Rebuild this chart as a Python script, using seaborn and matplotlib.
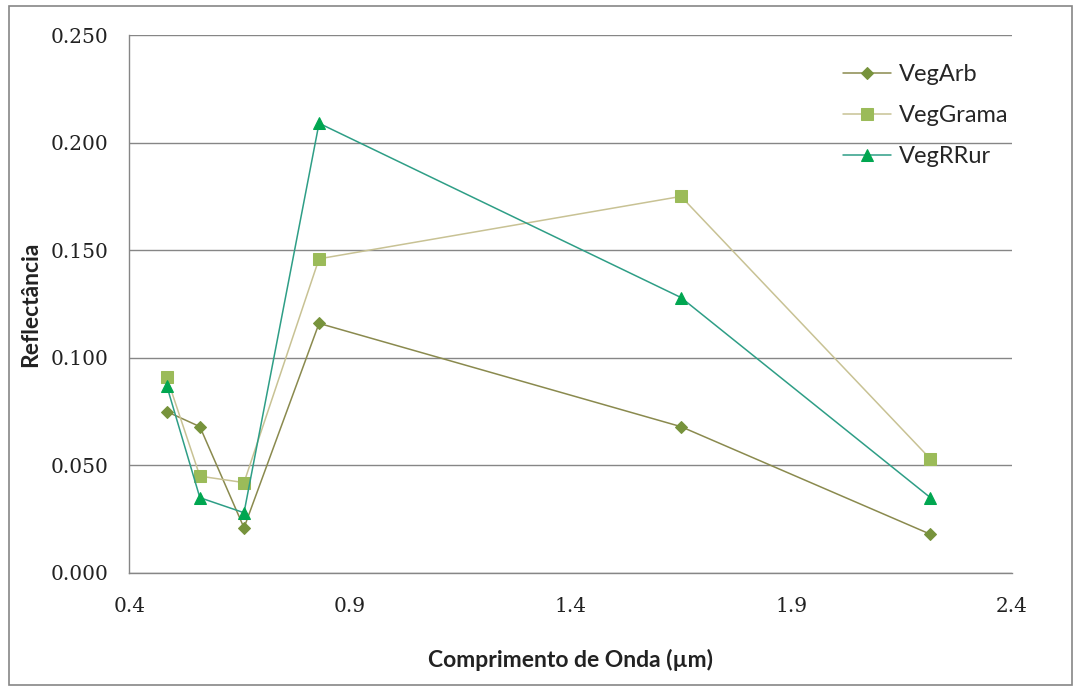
import pandas as pd
import matplotlib
matplotlib.use("Agg")
import matplotlib.pyplot as plt
import seaborn as sns
from matplotlib.patches import Rectangle
from matplotlib.ticker import FormatStrFormatter

# wavelengths (um) and reflectance per vegetation class
wavelength = [0.485, 0.56, 0.66, 0.83, 1.65, 2.215]
veg_arb = [0.075, 0.068, 0.021, 0.116, 0.068, 0.018]
veg_grama = [0.091, 0.045, 0.042, 0.146, 0.175, 0.053]
veg_rrur = [0.087, 0.035, 0.028, 0.209, 0.128, 0.035]

series_names = ["VegArb", "VegGrama", "VegRRur"]
x_ticks = [0.4, 0.9, 1.4, 1.9, 2.4]
y_ticks = [0.0, 0.05, 0.10, 0.15, 0.20, 0.25]

sns.set_style("white")
plt.rcParams["font.family"] = ["Lato", "DejaVu Sans"]

# line colour, marker colour, marker shape, marker size
styles = {
    "VegArb": ("#8a8a4e", "#77933c", "D", 6),
    "VegGrama": ("#c8c294", "#9bbb59", "s", 8),
    "VegRRur": ("#2e9e86", "#00a650", "^", 8.5),
}

fig = plt.figure(figsize=(10.77, 6.91), dpi=100)
ax = fig.add_axes([0.12, 0.1708, 0.8197, 0.7785])

for name, vals in zip(series_names, [veg_arb, veg_grama, veg_rrur]):
    lc, mc, mk, ms = styles[name]
    df = pd.DataFrame({"x": wavelength, "y": vals})
    sns.lineplot(data=df, x="x", y="y", ax=ax, color=lc, linewidth=1.1,
                 marker=mk, markersize=ms, markerfacecolor=mc,
                 markeredgecolor=mc, label=name, sort=False)

ax.set_xlim(0.4, 2.4)
ax.set_ylim(0, 0.25)
ax.set_xticks(x_ticks)
ax.set_yticks(y_ticks)
ax.yaxis.set_major_formatter(FormatStrFormatter("%.3f"))
ax.xaxis.set_major_formatter(FormatStrFormatter("%.1f"))
ax.yaxis.grid(True, color="#868686", linewidth=1.0)
ax.xaxis.grid(False)
ax.set_axisbelow(True)

for side in ["top", "right"]:
    ax.spines[side].set_visible(False)
for side in ["left", "bottom"]:
    ax.spines[side].set_color("#868686")
    ax.spines[side].set_linewidth(1.0)

ax.tick_params(axis="both", which="major", direction="out", length=5,
               width=1, color="#868686", pad=10)
ax.tick_params(axis="x", pad=12)
for lab in ax.get_xticklabels() + ax.get_yticklabels():
    lab.set_family(["DejaVu Serif"])
    lab.set_fontsize(14.5)
    lab.set_color("#222222")

ax.set_xlabel("Comprimento de Onda (µm)", fontsize=16.5, fontweight="bold",
              labelpad=24, color="#222222")
ax.set_ylabel("Reflectância", fontsize=16.5, fontweight="bold",
              labelpad=7, color="#222222")

leg = ax.legend(loc="upper right", bbox_to_anchor=(1.02, 0.985), frameon=False,
                fontsize=17, handlelength=2.0, labelspacing=0.85, handletextpad=0.35)

# outer chart border
fig.patches.append(Rectangle((0.008, 0.008), 0.987, 0.984, transform=fig.transFigure,
                             fill=False, edgecolor="#868686", linewidth=1.2))

plt.savefig("out.png", dpi=100)
plt.close()
